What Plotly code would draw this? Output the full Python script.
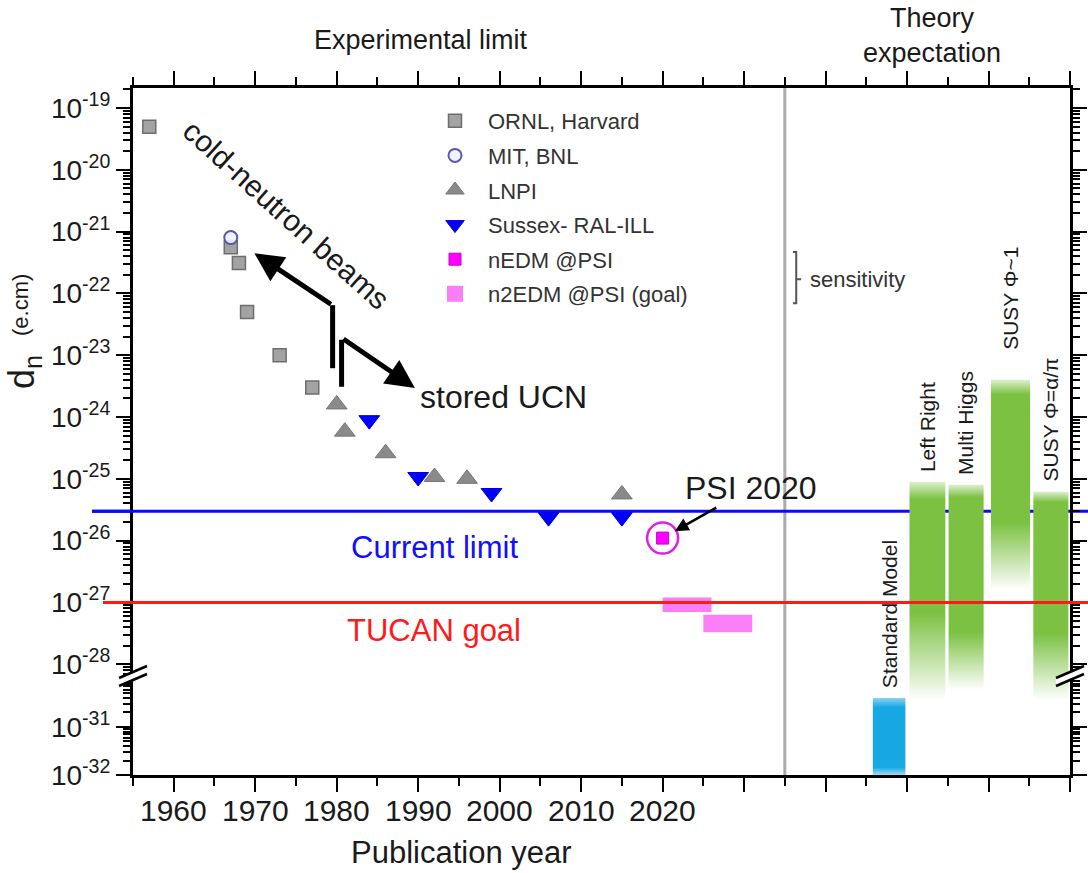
import math
import numpy as np
import plotly.graph_objects as go

# ------------------------------------------------------------------ data
ornl_year = [1957, 1967, 1968, 1969, 1973, 1977]
ornl_dn = [5e-20, 5.6e-22, 3.1e-22, 5e-23, 1e-23, 3e-24]
mit_year = [1967]
mit_dn = [8e-22]
lnpi_year = [1980, 1981, 1986, 1992, 1996, 2015]
lnpi_dn = [1.6e-24, 5.8e-25, 2.6e-25, 1.07e-25, 1.0e-25, 5.6e-26]
sussex_year = [1984, 1990, 1999, 2006, 2015]
sussex_dn = [8.9e-25, 1.07e-25, 5.9e-26, 2.4e-26, 2.4e-26]
nedm_year = [2020]
nedm_dn = [1.1e-26]
n2edm_year_start = [2020, 2025]
n2edm_year_end = [2026, 2031]
n2edm_dn_low = [7e-28, 3.3e-28]
n2edm_dn_high = [1.2e-27, 6.3e-28]
current_limit = 3e-26
tucan_goal = 1e-27

theory_names = ["Standard Model", "Left Right", "Multi Higgs", "SUSY \u03a6~1", "SUSY \u03a6=\u03b1/\u03c0"]
theory_x0 = [2045.8, 2050.3, 2055.1, 2060.3, 2065.5]
theory_x1 = [2049.8, 2054.7, 2059.4, 2065.1, 2069.8]
theory_top = [4e-31, 9e-26, 8e-26, 4e-24, 6.2e-26]
theory_bottom = [1e-32, 3.6e-31, 5.9e-31, 1.6e-27, 3.6e-31]

year_ticks = [1960, 1970, 1980, 1990, 2000, 2010, 2020, 2030, 2040, 2050, 2060, 2070]
year_ticklabels = ["1960", "1970", "1980", "1990", "2000", "2010", "2020", "", "", "", "", ""]
upper_decades = [-19, -20, -21, -22, -23, -24, -25, -26, -27, -28]
lower_decades = [-31, -32]

# annotation anchor points (year, log10 d_n)
cold_arrow_shaft_x = [1979.5, 1979.5]
cold_arrow_shaft_y = [10 ** -23.21, 10 ** -22.19]
cold_arrow_head = (1969.9, -21.35)
ucn_arrow_shaft_x = [1980.6, 1980.6]
ucn_arrow_shaft_y = [10 ** -23.51, 10 ** -22.75]
ucn_arrow_head = (1989.6, -23.53)

# ------------------------------------------------------------------ geometry / style
W, H = 1088, 873
L, R, T, B = 133, 1070, 88, 775
JUNC = 676
PLOT_W = R - L
PLOT_H = B - T
LOWER_FRAC = (B - JUNC) / PLOT_H
UP_RANGE = [-28.19, -18.676]
LO_RANGE = [-32.0, -29.94]
X_RANGE = [1955, 2070]
FONT = "Liberation Sans, Arial, sans-serif"
TXT = "#1a1a1a"
GREEN = (124, 193, 66)
CYAN = (22, 168, 226)
theory_colors = [CYAN, GREEN, GREEN, GREEN, GREEN]
fade_top = [0.12, 0.08, 0.06, 0.07, 0.05]
fade_bot = [0.10, 0.40, 0.28, 0.32, 0.32]
label_gap = [8, 8, 8, 28, 8]


def px_x(px):
    return (px - L) / PLOT_W


def px_y(py):
    return (B - py) / PLOT_H


def ypx(v):
    lv = math.log10(v)
    if lv >= UP_RANGE[0]:
        return T + (UP_RANGE[1] - lv) / (UP_RANGE[1] - UP_RANGE[0]) * (JUNC - T)
    return B - (lv - LO_RANGE[0]) / (LO_RANGE[1] - LO_RANGE[0]) * (B - JUNC)


fig = go.Figure()

# ------------------------------------------------------------------ theory boxes
for i in range(len(theory_names)):
    x0, x1 = theory_x0[i], theory_x1[i]
    top, bot = theory_top[i], theory_bottom[i]
    ptop, pbot = ypx(top), ypx(bot)
    h = pbot - ptop
    s_px = [ptop, ptop + fade_top[i] * h, pbot - fade_bot[i] * h, pbot]
    s_a = [0.25, 1.0, 1.0, 0.0] if i > 0 else [0.5, 1.0, 1.0, 0.4]
    pieces = []
    if math.log10(top) > UP_RANGE[0]:
        if math.log10(bot) < UP_RANGE[0]:
            pieces.append(("x", "y", top, 10 ** UP_RANGE[0], ptop, JUNC))
        else:
            pieces.append(("x", "y", top, bot, ptop, pbot))
    if math.log10(bot) < LO_RANGE[1]:
        if math.log10(top) > LO_RANGE[1]:
            pieces.append(("x2", "y2", 10 ** LO_RANGE[1], bot, JUNC, pbot))
        else:
            pieces.append(("x2", "y2", top, bot, ptop, pbot))
    r, g, b = theory_colors[i]
    for xa, ya, yt, yb, pa, pb in pieces:
        pts = sorted(set([pa, pb] + [p for p in s_px if pa < p < pb]))
        cs = []
        for p in sorted(pts, key=lambda q: (pb - q) / (pb - pa)):
            t = (pb - p) / (pb - pa)
            a = float(np.interp(p, s_px, s_a))
            cs.append([round(t, 4), f"rgba({r},{g},{b},{a:.3f})"])
        cs[0][0] = 0.0
        cs[-1][0] = 1.0
        fig.add_trace(go.Scatter(
            x=[x0, x1, x1, x0, x0], y=[yt, yt, yb, yb, yt], xaxis=xa, yaxis=ya,
            mode="lines", line=dict(width=0), fill="toself",
            fillgradient=dict(type="vertical", colorscale=cs),
            hoverinfo="skip", showlegend=False))

# ------------------------------------------------------------------ n2EDM goal boxes
bx, by = [], []
for xs, xe, lo, hi in zip(n2edm_year_start, n2edm_year_end, n2edm_dn_low, n2edm_dn_high):
    bx += [xs, xe, xe, xs, xs, None]
    by += [hi, hi, lo, lo, hi, None]
fig.add_trace(go.Scatter(x=bx, y=by, mode="lines", line=dict(width=0), fill="toself",
                         fillcolor="#fa7ff6", hoverinfo="skip", showlegend=False,
                         xaxis="x", yaxis="y"))

# ------------------------------------------------------------------ experimental points
fig.add_trace(go.Scatter(x=ornl_year, y=ornl_dn, mode="markers", name="ORNL, Harvard",
                         marker=dict(symbol="square", size=13, color="#a3a3a3",
                                     line=dict(color="#6e6e6e", width=1.5)),
                         legendgroup="a", xaxis="x", yaxis="y"))
fig.add_trace(go.Scatter(x=mit_year, y=mit_dn, mode="markers", name="MIT, BNL",
                         marker=dict(symbol="circle", size=13, color="rgba(240,240,255,0.9)",
                                     line=dict(color="#5a58b0", width=2)),
                         legendgroup="b", xaxis="x", yaxis="y"))
fig.add_trace(go.Scatter(x=lnpi_year, y=lnpi_dn, mode="markers", name="LNPI",
                         marker=dict(symbol="triangle-up", size=18, color="#8a8a8a",
                                     line=dict(color="#777777", width=1)),
                         legendgroup="c", xaxis="x", yaxis="y"))
fig.add_trace(go.Scatter(x=sussex_year, y=sussex_dn, mode="markers", name="Sussex- RAL-ILL",
                         marker=dict(symbol="triangle-down", size=18, color="#0000ff",
                                     line=dict(color="#0000cc", width=1)),
                         legendgroup="d", xaxis="x", yaxis="y"))
fig.add_trace(go.Scatter(x=nedm_year, y=nedm_dn, mode="markers", name="nEDM @PSI",
                         marker=dict(symbol="square", size=12, color="#ff00ff",
                                     line=dict(color="#cc00cc", width=1)),
                         legendgroup="e", xaxis="x", yaxis="y"))
fig.add_trace(go.Scatter(x=nedm_year, y=nedm_dn, mode="markers", showlegend=False,
                         marker=dict(symbol="circle-open", size=31, color="#e020e0",
                                     line=dict(color="#e020e0", width=2.5)),
                         hoverinfo="skip", xaxis="x", yaxis="y"))
fig.add_trace(go.Scatter(x=[None], y=[None], mode="markers", name="n2EDM @PSI (goal)",
                         marker=dict(symbol="square", size=16, color="#fa7ff6"),
                         legendgroup="f", xaxis="x", yaxis="y"))

# arrow shafts
for sx, sy in ((cold_arrow_shaft_x, cold_arrow_shaft_y), (ucn_arrow_shaft_x, ucn_arrow_shaft_y)):
    fig.add_trace(go.Scatter(x=sx, y=sy, mode="lines", line=dict(color="black", width=5),
                             hoverinfo="skip", showlegend=False, xaxis="x", yaxis="y"))

# sensitivity bracket
fig.add_trace(go.Scatter(
    x=[2036.0, 2036.4, 2036.4, 2036.0, None, 2036.4, 2037.0],
    y=[10 ** -21.33, 10 ** -21.33, 10 ** -22.16, 10 ** -22.16, None, 10 ** -21.77, 10 ** -21.77],
    mode="lines", line=dict(color="#555555", width=2), hoverinfo="skip",
    showlegend=False, xaxis="x", yaxis="y"))

# ------------------------------------------------------------------ shapes
shapes = []
shapes.append(dict(type="line", xref="x2", yref="paper", x0=2035, x1=2035, y0=0, y1=1,
                   line=dict(color="#ababab", width=3), layer="below"))
shapes.append(dict(type="line", xref="paper", yref="y", x0=px_x(92), x1=px_x(W),
                   y0=current_limit, y1=current_limit, line=dict(color="#0a0aff", width=3),
                   layer="below"))
shapes.append(dict(type="line", xref="paper", yref="y", x0=px_x(103), x1=px_x(W),
                   y0=tucan_goal, y1=tucan_goal, line=dict(color="#ff1a1a", width=3),
                   layer="above"))
# short stubs of the limit lines reaching out past the left axis (outside the plot clip)
for val, xstart, col in ((current_limit, 92, "#0a0aff"), (tucan_goal, 103, "#ff1a1a")):
    yp = px_y(ypx(val))
    shapes.append(dict(type="line", xref="paper", yref="paper", x0=px_x(xstart), x1=0,
                       y0=yp, y1=yp, line=dict(color=col, width=3), layer="above"))

# axis break marks
dx, dy = 1.0 / PLOT_W, 1.0 / PLOT_H
for xc in (0.0, 1.0):
    shapes.append(dict(type="path", xref="paper", yref="paper",
                       path=(f"M {xc - 14*dx},{LOWER_FRAC - 10*dy} L {xc + 14*dx},{LOWER_FRAC + 2*dy} "
                             f"L {xc + 14*dx},{LOWER_FRAC + 10*dy} L {xc - 14*dx},{LOWER_FRAC - 2*dy} Z"),
                       fillcolor="white", line=dict(width=0), layer="above"))
    for off in (-4, 4):
        shapes.append(dict(type="line", xref="paper", yref="paper",
                           x0=xc - 14 * dx, x1=xc + 14 * dx,
                           y0=LOWER_FRAC + (off - 6) * dy, y1=LOWER_FRAC + (off + 6) * dy,
                           line=dict(color="black", width=2.5), layer="above"))

# ------------------------------------------------------------------ annotations
ann = []
ann.append(dict(x=1973.8, y=-20.72, xref="x", yref="y", text="cold-neutron beams",
                textangle=42, showarrow=False, xanchor="center", yanchor="middle",
                font=dict(family=FONT, size=30, color=TXT)))
ann.append(dict(x=cold_arrow_head[0], y=cold_arrow_head[1], xref="x", yref="y", text="",
                showarrow=True, ax=78, ay=52, arrowhead=2, arrowsize=1.15, arrowwidth=5,
                arrowcolor="black"))
ann.append(dict(x=ucn_arrow_head[0], y=ucn_arrow_head[1], xref="x", yref="y", text="",
                showarrow=True, ax=-73, ay=-50, arrowhead=2, arrowsize=1.15, arrowwidth=5,
                arrowcolor="black"))
ann.append(dict(x=1990.0, y=-23.68, xref="x", yref="y", text="stored UCN", xanchor="left",
                yanchor="middle", showarrow=False, font=dict(family=FONT, size=32, color=TXT)))
ann.append(dict(x=nedm_year[0], y=math.log10(nedm_dn[0]), xref="x", yref="y", text="PSI 2020",
                showarrow=True, ax=88, ay=-50, arrowhead=2, arrowsize=1.1, arrowwidth=2.5,
                arrowcolor="black", standoff=14, font=dict(family=FONT, size=32, color=TXT)))
ann.append(dict(x=1992, y=math.log10(current_limit), xref="x", yref="y", text="Current limit",
                yshift=-36, showarrow=False, xanchor="center", yanchor="middle",
                font=dict(family=FONT, size=31, color="#1010ff")))
ann.append(dict(x=1992, y=math.log10(tucan_goal), xref="x", yref="y", text="TUCAN goal",
                yshift=-28, showarrow=False, xanchor="center", yanchor="middle",
                font=dict(family=FONT, size=31, color="#ff1a1a")))
ann.append(dict(x=2037.9, y=-21.77, xref="x", yref="y", text="sensitivity", xanchor="left",
                yanchor="middle", showarrow=False, font=dict(family=FONT, size=22, color="#333333")))
for i in range(len(theory_names)):
    on_lower = math.log10(theory_top[i]) < UP_RANGE[0]
    ann.append(dict(
        x=(theory_x0[i] + theory_x1[i]) / 2, y=math.log10(theory_top[i]),
        xref="x2" if on_lower else "x", yref="y2" if on_lower else "y",
        text=theory_names[i], textangle=-90, showarrow=False,
        xanchor="center", yanchor="bottom", yshift=label_gap[i],
        font=dict(family=FONT, size=21, color=TXT)))
# year tick labels, placed on the bottom axis
for yv, lab in zip(year_ticks, year_ticklabels):
    if lab:
        ann.append(dict(x=yv, y=px_y(810), xref="x2", yref="paper", text=lab,
                        showarrow=False, xanchor="center", yanchor="middle",
                        font=dict(family=FONT, size=30, color=TXT)))
ann.append(dict(x=px_x(421), y=px_y(40), xref="paper", yref="paper",
                text="Experimental limit", showarrow=False, xanchor="center", yanchor="middle",
                font=dict(family=FONT, size=27, color=TXT)))
ann.append(dict(x=px_x(932), y=px_y(36), xref="paper", yref="paper",
                text="Theory<br>expectation", showarrow=False, xanchor="center", yanchor="middle",
                font=dict(family=FONT, size=27, color=TXT)))
ann.append(dict(x=px_x(461), y=px_y(852), xref="paper", yref="paper",
                text="Publication year", showarrow=False, xanchor="center", yanchor="middle",
                font=dict(family=FONT, size=31, color=TXT)))
ann.append(dict(x=px_x(24), y=px_y(372), xref="paper", yref="paper",
                text="d<sub>n</sub>", textangle=-90, showarrow=False,
                xanchor="center", yanchor="middle", font=dict(family=FONT, size=36, color=TXT)))
ann.append(dict(x=px_x(20), y=px_y(305), xref="paper", yref="paper",
                text="(e.cm)", textangle=-90, showarrow=False,
                xanchor="center", yanchor="middle", font=dict(family=FONT, size=22, color=TXT)))

# ------------------------------------------------------------------ axes
tickfont_y = dict(family=FONT, size=28, color=TXT)
xcommon = dict(range=X_RANGE, tickmode="array", tickvals=year_ticks, ticks="outside",
               ticklen=14, tickwidth=2, tickcolor="black", showline=True, linewidth=3,
               linecolor="black", showgrid=False, zeroline=False, automargin=False,
               showticklabels=False,
               minor=dict(tickmode="linear", tick0=1955, dtick=5, ticks="outside",
                          ticklen=8, tickwidth=2, tickcolor="black", showgrid=False))
up_minor = [m * 10.0 ** e for e in range(-29, -18) for m in range(2, 10)]
lo_minor = [m * 10.0 ** e for e in range(-33, -29) for m in range(2, 10)]
ycommon = dict(type="log", ticks="outside", ticklen=14, tickwidth=2, tickcolor="black",
               showline=True, linewidth=3, linecolor="black", mirror="allticks",
               showgrid=False, zeroline=False, tickfont=tickfont_y, tickmode="array",
               automargin=False)

fig.update_layout(
    width=W, height=H,
    margin=dict(l=L, r=W - R, t=T, b=H - B, autoexpand=False),
    paper_bgcolor="white", plot_bgcolor="white",
    font=dict(family=FONT, color=TXT),
    xaxis=dict(**xcommon, anchor="y", side="top", matches="x2", domain=[0, 1]),
    xaxis2=dict(**xcommon, anchor="y2", side="bottom", domain=[0, 1]),
    yaxis=dict(**ycommon, anchor="x", domain=[LOWER_FRAC, 1], range=UP_RANGE,
               tickvals=[10.0 ** d for d in upper_decades],
               ticktext=[f"10<sup>{d}</sup>" for d in upper_decades],
               minor=dict(tickmode="array", tickvals=up_minor, ticks="outside", ticklen=7,
                          tickwidth=1.5, tickcolor="black", showgrid=False)),
    yaxis2=dict(**ycommon, anchor="x2", domain=[0, LOWER_FRAC], range=LO_RANGE,
                tickvals=[10.0 ** d for d in lower_decades],
                ticktext=[f"10<sup>{d}</sup>" for d in lower_decades],
                minor=dict(tickmode="array", tickvals=lo_minor, ticks="outside", ticklen=7,
                           tickwidth=1.5, tickcolor="black", showgrid=False)),
    legend=dict(x=px_x(422), y=px_y(100), xanchor="left", yanchor="top",
                bgcolor="rgba(0,0,0,0)", font=dict(family=FONT, size=22, color="#333333"),
                tracegroupgap=3, itemsizing="trace", itemwidth=56),
    shapes=shapes,
    annotations=ann,
)

fig.write_html("out.html")
